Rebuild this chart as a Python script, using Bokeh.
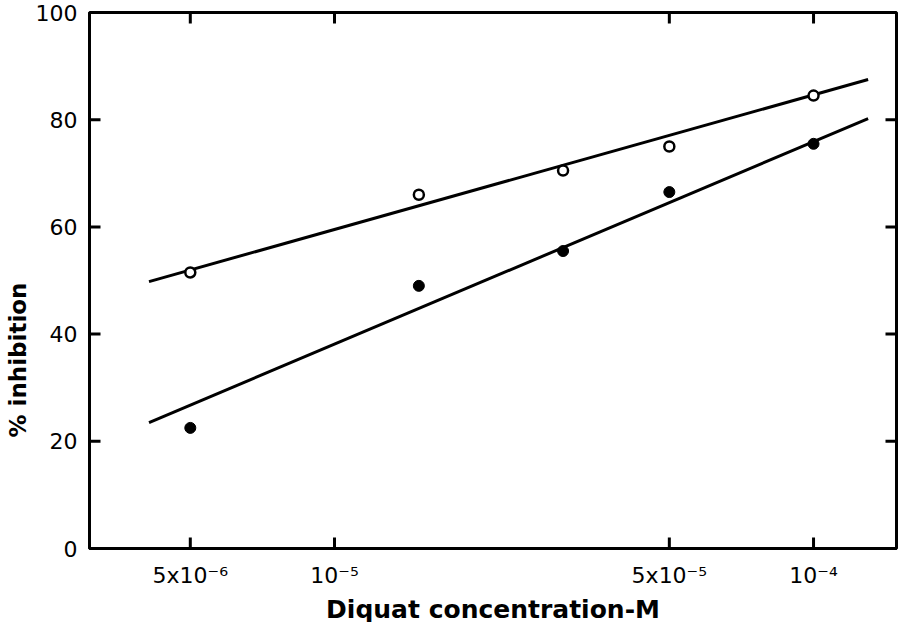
import math
from bokeh.plotting import figure
from bokeh.models import FixedTicker, Range1d, Title
from bokeh.embed import file_html
from bokeh.resources import INLINE

# Data
conc = [5e-6, 1.5e-5, 3e-5, 5e-5, 1e-4]
open_inhib = [51.5, 66.0, 70.5, 75.0, 84.5]
filled_inhib = [22.5, 49.0, 55.5, 66.5, 75.5]
fit_conc = [4.1e-6, 1.3e-4]
fit_open = [49.8, 87.5]
fit_filled = [23.5, 80.2]

x_ticks = [5e-6, 1e-5, 5e-5, 1e-4]
x_tick_labels = ["5x10\u207b\u2076", "10\u207b\u2075", "5x10\u207b\u2075", "10\u207b\u2074"]
y_ticks = [0, 20, 40, 60, 80, 100]
x_lo, x_hi = 3.08e-6, 1.49e-4
y_lo, y_hi = 0, 100

FONT = "DejaVu Sans"

p = figure(
    output_backend="svg", toolbar_location=None,
    x_axis_type="log",
    x_range=Range1d(x_lo, x_hi), y_range=Range1d(y_lo, y_hi),
    frame_width=807, frame_height=536,
    min_border_left=88, min_border_right=3, min_border_top=12, min_border_bottom=74,
)
p.width = 898
p.height = 622
p.grid.visible = False
p.outline_line_color = "black"
p.outline_line_width = 3

for ax in (p.xaxis[0], p.yaxis[0]):
    ax.axis_line_width = 3
    ax.axis_line_color = "black"
    ax.major_tick_in = 0
    ax.major_tick_out = 0
    ax.minor_tick_line_color = None
    ax.major_label_text_font = FONT
    ax.major_label_text_font_size = "22px"
    ax.major_label_text_color = "black"
    ax.axis_label_text_font = FONT
    ax.axis_label_text_font_style = "bold"
    ax.axis_label_text_color = "black"

xa = p.xaxis[0]
xa.ticker = FixedTicker(ticks=x_ticks)
xa.major_label_overrides = {t: l for t, l in zip(x_ticks, x_tick_labels)}
xa.major_label_standoff = 14
xa.axis_label = "Diquat concentration-M"
xa.axis_label_text_font_size = "25px"
xa.axis_label_standoff = 4

ya = p.yaxis[0]
ya.ticker = FixedTicker(ticks=y_ticks)
ya.major_label_standoff = 12

ytitle = Title(text="% inhibition", align="left", offset=111, standoff=4,
               text_font=FONT, text_font_style="bold", text_font_size="23px",
               text_color="black")
p.add_layout(ytitle, "left")

# inward ticks on all four sides, fixed screen length
n = len(x_ticks)
tk = dict(length=11, length_units="screen", line_color="black", line_width=3)
p.ray(x_ticks, [y_lo] * n, angle=math.pi / 2, **tk)
p.ray(x_ticks, [y_hi] * n, angle=-math.pi / 2, **tk)
p.ray([x_lo] * len(y_ticks), y_ticks, angle=0, **tk)
p.ray([x_hi] * len(y_ticks), y_ticks, angle=math.pi, **tk)

p.line(fit_conc, fit_open, line_color="black", line_width=3)
p.line(fit_conc, fit_filled, line_color="black", line_width=3)
p.scatter(conc, open_inhib, marker="circle", size=10, fill_color="white",
          line_color="black", line_width=2.5)
p.scatter(conc, filled_inhib, marker="circle", size=11, fill_color="black",
          line_color="black")

open("out.html", "w").write(file_html(p, INLINE))
